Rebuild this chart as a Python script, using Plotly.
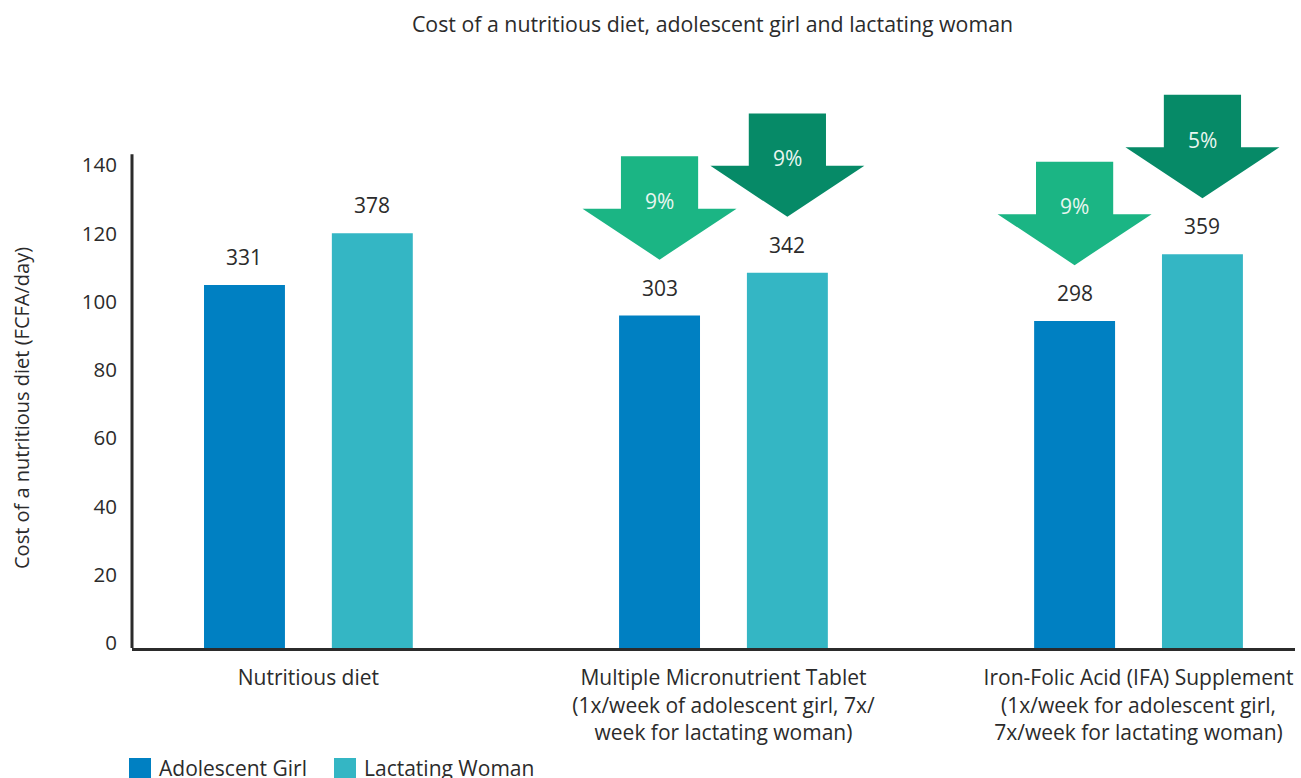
import plotly.graph_objects as go

# ---- data ----
categories = [
    "Nutritious diet",
    "Multiple Micronutrient Tablet<br>(1x/week of adolescent girl, 7x/<br>week for lactating woman)",
    "Iron-Folic Acid (IFA) Supplement<br>(1x/week for adolescent girl,<br>7x/week for lactating woman)",
]
adolescent_girl = [331, 303, 298]
lactating_woman = [378, 342, 359]
# percentage reductions vs. the nutritious diet (None = no arrow)
girl_reduction = [None, "9%", "9%"]
woman_reduction = [None, "9%", "5%"]
axis_ticks = [0, 20, 40, 60, 80, 100, 120, 140]

# ---- styling / geometry ----
C_GIRL = "#0080C2"
C_WOMAN = "#34B6C4"
C_ARROW_LIGHT = "#1BB584"
C_ARROW_DARK = "#068A67"
C_TEXT = "#2B2B2B"
FONT = "Open Sans"

W, H = 1301, 778
M_L, M_R, M_T, M_B = 132, 6, 60, 130
PLOT_W = W - M_L - M_R
PLOT_H = H - M_T - M_B

TICK_SCALE = 3.112          # bar units per axis tick unit
Y_TOP = 536                 # top of y range in bar units
Y_LINE_TOP = 450            # where the drawn y-axis line ends
X_RANGE = [-0.425, 2.377]

BAR_OFFSET = 0.154
BAR_WIDTH = 0.195

# arrow geometry (bar units vertically, category units horizontally)
ARROW_GAP = 51
ARROW_HEAD_H = 46.5
ARROW_SHAFT_H = 47.8
ARROW_HEAD_W = 0.371
ARROW_SHAFT_W = 0.186


def px2x(px):
    return (px - M_L) / PLOT_W


def py2y(py):
    return (H - M_B - py) / PLOT_H


fig = go.Figure()

series = [
    ("Adolescent Girl", adolescent_girl, -BAR_OFFSET, C_GIRL, girl_reduction, C_ARROW_LIGHT),
    ("Lactating Woman", lactating_woman, BAR_OFFSET, C_WOMAN, woman_reduction, C_ARROW_DARK),
]

annotations = []
shapes = []

for name, vals, off, color, reds, acol in series:
    xs = [i + off for i in range(len(categories))]
    fig.add_trace(go.Bar(
        name=name, x=xs, y=vals, width=BAR_WIDTH,
        marker=dict(color=color, line=dict(width=0)),
        showlegend=False, hoverinfo="y",
    ))
    for x, v, red in zip(xs, vals, reds):
        annotations.append(dict(
            x=x, y=v, xref="x", yref="y", text=str(v), showarrow=False,
            yanchor="middle", yshift=28,
            font=dict(family=FONT, size=21, color=C_TEXT),
        ))
        if red is None:
            continue
        tip = v + ARROW_GAP
        base = tip + ARROW_HEAD_H
        top = base + ARROW_SHAFT_H
        hw, sw = ARROW_HEAD_W / 2, ARROW_SHAFT_W / 2
        path = (
            f"M {x - sw} {top} L {x + sw} {top} L {x + sw} {base} "
            f"L {x + hw} {base} L {x} {tip} L {x - hw} {base} "
            f"L {x - sw} {base} Z"
        )
        shapes.append(dict(type="path", path=path, xref="x", yref="y",
                           fillcolor=acol, line=dict(width=0), layer="above"))
        annotations.append(dict(
            x=x, y=base + 7, xref="x", yref="y", text=red, showarrow=False,
            yanchor="middle",
            font=dict(family=FONT, size=21, color="#E9F6F0"),
        ))

# y-axis line
shapes.append(dict(type="line", xref="paper", yref="y", x0=0, x1=0,
                   y0=0, y1=Y_LINE_TOP, line=dict(color=C_TEXT, width=3),
                   layer="above"))

# legend
legend_items = [("Adolescent Girl", C_GIRL, 129), ("Lactating Woman", C_WOMAN, 334)]
for label, color, px in legend_items:
    shapes.append(dict(type="rect", xref="paper", yref="paper",
                       x0=px2x(px), x1=px2x(px + 22), y0=py2y(758), y1=py2y(782),
                       fillcolor=color, line=dict(width=0)))
    annotations.append(dict(
        x=px2x(px + 28), y=py2y(768), xref="paper", yref="paper",
        text=label, showarrow=False, xanchor="left", yanchor="middle",
        font=dict(family=FONT, size=21, color=C_TEXT),
    ))

# y-axis title
annotations.append(dict(
    x=px2x(21), y=py2y(408), xref="paper", yref="paper",
    text="Cost of a nutritious diet (FCFA/day)", showarrow=False,
    textangle=-90, xanchor="center", yanchor="middle",
    font=dict(family=FONT, size=20, color=C_TEXT),
))

fig.update_layout(
    width=W, height=H,
    margin=dict(l=M_L, r=M_R, t=M_T, b=M_B),
    paper_bgcolor="white", plot_bgcolor="white",
    barmode="overlay",
    title=dict(
        text="Cost of a nutritious diet, adolescent girl and lactating woman",
        x=712.5 / W, xref="container", xanchor="center",
        y=1 - 25 / H, yref="container", yanchor="middle",
        font=dict(family=FONT, size=21.3, color=C_TEXT),
    ),
    xaxis=dict(
        range=X_RANGE, tickmode="array",
        tickvals=list(range(len(categories))), ticktext=categories,
        showgrid=False, zeroline=False, ticks="",
        showline=True, linecolor=C_TEXT, linewidth=3,
        tickfont=dict(family=FONT, size=21, color=C_TEXT),
        ticklabelstandoff=9,
    ),
    yaxis=dict(
        range=[0, Y_TOP], tickmode="array",
        tickvals=[t * TICK_SCALE for t in axis_ticks],
        ticktext=[str(t) for t in axis_ticks],
        showgrid=False, zeroline=False, ticks="", showline=False,
        tickfont=dict(family=FONT, size=20.5, color=C_TEXT),
        ticklabelstandoff=14, ticklabelshift=-5,
    ),
    shapes=shapes,
    annotations=annotations,
    font=dict(family=FONT, color=C_TEXT),
)

fig.write_html("out.html")
